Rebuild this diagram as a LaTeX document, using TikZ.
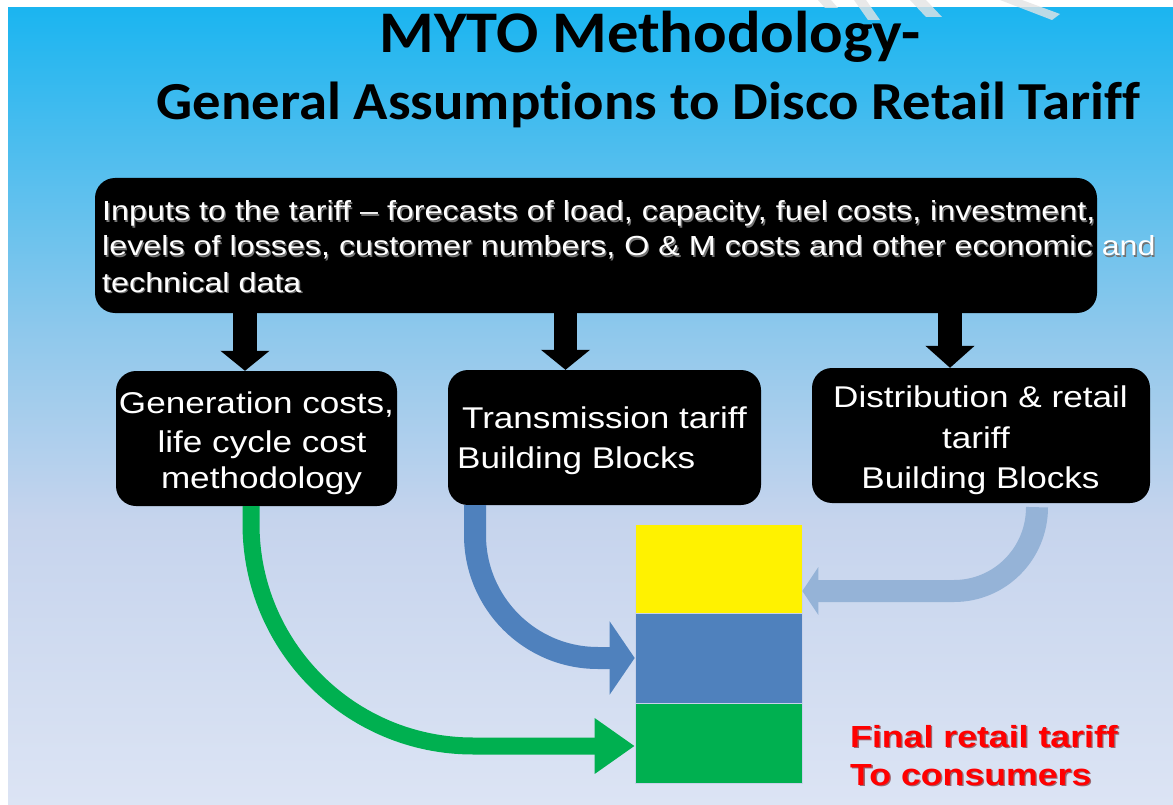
\documentclass[tikz,border=0pt]{standalone}
\usepackage{fontspec}
\setmainfont{Liberation Sans}
\newfontfamily\arialx[FakeStretch=1.17]{Liberation Sans}
\newfontfamily\calib[FakeStretch=1.06, Ligatures=NoCommon]{Carlito}
\usetikzlibrary{arrows.meta}

\definecolor{bgtop}{HTML}{1BB5F0}
\definecolor{bgA}{HTML}{8EC8EC}
\definecolor{bgB}{HTML}{C6D4ED}
\definecolor{bgbot}{HTML}{DCE4F4}
\definecolor{gengreen}{HTML}{00B050}
\definecolor{transblue}{HTML}{4F81BD}
\definecolor{distblue}{HTML}{95B3D7}
\definecolor{tariffred}{HTML}{FF0000}
\definecolor{redshadow}{HTML}{9A6670}
\definecolor{markgrey}{HTML}{E4E4E4}
\definecolor{seam}{HTML}{C8D2EA}

% text with a small drop shadow to the lower right
\newcommand{\dropshadow}[2]{\leavevmode\rlap{\kern1.3pt\raisebox{-1.3pt}{\color{#1}#2}}#2}

\begin{document}
\begin{tikzpicture}[x=1pt,y=-1pt,
  blk/.style={fill=black, rounded corners=20pt, inner sep=0pt},
  boxtxt/.style={text=white, inner sep=0pt, font=\arialx\fontsize{30}{36}\selectfont},
  inptxt/.style={text=white, inner sep=0pt, anchor=base west, font=\arialx\fontsize{27.6}{35}\selectfont},
  titletxt/.style={inner sep=0pt, anchor=base, text=black},
  redtxt/.style={text=tariffred, inner sep=0pt, anchor=base west, font=\arialx\bfseries\fontsize{30.5}{38}\selectfont},
  blkarrow/.style={line width=24pt, -{Triangle[width=48pt,length=20pt]}},
  bigarrow/.style={line width=#1, draw, line cap=butt},
  slab/.style={inner sep=0pt, minimum width=167pt, draw=seam, line width=0.6pt},
  wm/.style={fill=markgrey}
]
\useasboundingbox (0,0) rectangle (1173,805);
\fill[white] (0,0) rectangle (1173,805);

% background gradient
\shade[top color=bgtop, bottom color=bgA] (8,8) rectangle (1173,330);
\shade[top color=bgA, bottom color=bgB] (8,330) rectangle (1173,520);
\shade[top color=bgB, bottom color=bgbot] (8,520) rectangle (1173,805);

% faint diagonal marks along the top edge
\fill[wm, opacity=0.8] (818,0) -- (831,0) -- (838,8) -- (825,8) -- cycle;
\fill[wm, opacity=0.8] (854,0) -- (866,0) -- (880,20) -- (868,20) -- cycle;
\fill[wm, opacity=0.8] (910,0) -- (926,0) -- (942,17) -- (926,17) -- cycle;
\fill[wm, opacity=0.8] (1000,0) -- (1022,0) -- (1060,14) -- (1052,20) -- cycle;

% title
\node[titletxt, font=\calib\bfseries\fontsize{59}{64}\selectfont] (t1) at (650,53) {MYTO Methodology-};
\node[titletxt, font=\calib\bfseries\fontsize{53.5}{60}\selectfont] (t2) at (648.5,120) {General Assumptions to Disco Retail Tariff};

% stacked tariff components
\node[slab, fill=yellow, minimum height=89pt] (yel) at (718.5,568.5) {};
\node[slab, fill=transblue, minimum height=90pt] (blu) at (718.5,658) {};
\node[slab, fill=gengreen, minimum height=80pt] (grn) at (718.5,743) {};

% boxes
\node[blk, minimum width=1002pt, minimum height=135pt] (inp) at (596,245.5) {};
\node[blk, minimum width=281pt, minimum height=135pt] (gen) at (256.5,438.5) {};
\node[blk, minimum width=313pt, minimum height=135pt] (trans) at (604.5,437.5) {};
\node[blk, minimum width=338pt, minimum height=135pt] (dist) at (981,435.5) {};

% block arrows from the inputs box
\coordinate (ax1) at (245,0);
\coordinate (ax2) at (565.5,0);
\coordinate (ax3) at (950,0);
\draw[blkarrow] (inp.south -| ax1) -- (gen.north -| ax1);
\draw[blkarrow, line width=23pt] (inp.south -| ax2) -- (trans.north -| ax2);
\draw[blkarrow, -{Triangle[width=48pt,length=22pt]}] (inp.south -| ax3) -- (dist.north -| ax3);

% curved arrows into the stack
\coordinate (gx) at (251,0);
\coordinate (tx) at (475,0);
\coordinate (dx) at (1037,0);
\draw[bigarrow=17pt, gengreen, -{Triangle[width=53pt,length=40pt]}]
  (gen.south -| gx) -- (251,524) .. controls (251,646.6) and (350.4,746) .. (473,746)
  -- ([yshift=-3pt]grn.west);
\draw[bigarrow=22pt, transblue, -{Triangle[width=72pt,length=25pt]}]
  (trans.south -| tx) -- (475,535) .. controls (475,603) and (530,658) .. (598,658)
  -- (blu.west);
\draw[bigarrow=22pt, distblue, -{Triangle[width=47pt,length=16pt]}]
  ([yshift=-4pt]dist.south -| dx) .. controls (1037,553.8) and (999.8,591) .. (954,591)
  -- ([yshift=-22.5pt]yel.east);

% box texts
\node[inptxt] (i1) at (102,221) {\dropshadow{black!55}{Inputs to the tariff – forecasts of load, capacity, fuel costs, investment,}};
\node[inptxt] (i2) at (102,256) {\dropshadow{black!55}{levels of losses, customer numbers, O \& M costs and other economic and}};
\node[inptxt] (i3) at (102,292) {\dropshadow{black!55}{technical data}};

\node[boxtxt, anchor=base] (g1) at (256.5,413) {Generation costs,};
\node[boxtxt, anchor=base] (g2) at (262,452) {life cycle cost};
\node[boxtxt, anchor=base] (g3) at (261.5,488) {methodology};

\node[boxtxt, anchor=base] (tr1) at (604.5,428) {Transmission tariff};
\node[boxtxt, anchor=base west] (tr2) at (457,468) {Building Blocks};

\node[boxtxt, anchor=base] (d1) at (980.5,407) {Distribution \& retail};
\node[boxtxt, anchor=base] (d2) at (976,448) {tariff};
\node[boxtxt, anchor=base] (d3) at (980.5,488) {Building Blocks};

% caption of the stack
\node[redtxt] (f1) at (850,747) {\dropshadow{redshadow}{Final retail tariff}};
\node[redtxt] (f2) at (850,785) {\dropshadow{redshadow}{To consumers}};
\end{tikzpicture}
\end{document}
